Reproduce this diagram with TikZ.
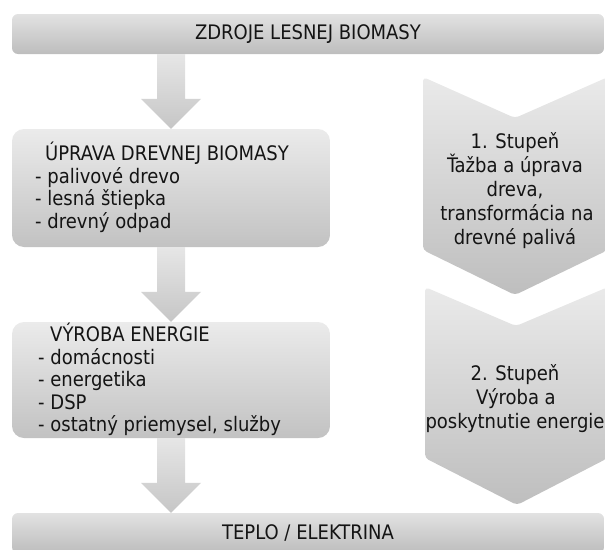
\documentclass[tikz,border=0pt]{standalone}
\usepackage{fontspec}
\setmainfont{DejaVu Sans Condensed}
\usetikzlibrary{calc}
\definecolor{barTop}{HTML}{E2E2E2}
\definecolor{barBot}{HTML}{BDBDBD}
\definecolor{boxTop}{HTML}{EBEBEB}
\definecolor{boxBot}{HTML}{C2C2C2}
\definecolor{arrTop}{HTML}{E6E6E6}
\definecolor{arrBot}{HTML}{C6C6C6}
\definecolor{chTop}{HTML}{EAEAEA}
\definecolor{chBot}{HTML}{BEBEBE}
\definecolor{txt}{HTML}{141414}
\begin{document}
\begin{tikzpicture}[x=1pt,y=-1pt,
  bar/.style={rounded corners=6pt, top color=barTop, bottom color=barBot,
    minimum width=592pt, minimum height=40pt, inner sep=0pt,
    font=\fontsize{20}{24}\selectfont, text=txt},
  boxshape/.style={rounded corners=12pt, top color=boxTop, bottom color=boxBot,
    minimum width=318pt, inner sep=0pt},
  ln/.style={anchor=base west, inner sep=0pt, text=txt,
    font=\fontsize{20}{24}\selectfont},
  cl/.style={anchor=base, inner sep=0pt, text=txt,
    font=\fontsize{20}{24}\selectfont},
  chevshape/.style={rounded corners=4pt, top color=chTop, bottom color=chBot},
  arrowfill/.style={top color=arrTop, bottom color=arrBot}
]
\useasboundingbox (0,0) rectangle (605,549);
\clip (0,0) rectangle (605,549);

% bars and boxes
\node[bar] (src) at (308,34) {ZDROJE LESNEJ BIOMASY};
\node[bar] (dst) at (308,533) {TEPLO / ELEKTRINA};
\node[boxshape, minimum height=118pt] (b1) at (171,188) {};
\node[boxshape, minimum height=116pt] (b2) at (171,380) {};

% block arrows
\newcommand{\blockarrow}[2]{%
  \path[arrowfill] let \p1=(#1), \p2=(#2) in
    (\x1-14pt,\y1) -- (\x1+14pt,\y1) -- (\x1+14pt,\y2+30pt) -- (\x1+30pt,\y2+30pt)
    -- (\x1,\y2) -- (\x1-30pt,\y2+30pt) -- (\x1-14pt,\y2+30pt) -- cycle;}
\blockarrow{src.south -| b1.north}{b1.north}
\blockarrow{b1.south}{b2.north}
\blockarrow{b2.south}{dst.north -| b2.south}

% box 1 text
\node[ln] (t1h) at (45,160.7) {ÚPRAVA DREVNEJ BIOMASY};
\node[ln] (t1a) at (35,183.2) {- palivové drevo};
\node[ln] (t1b) at (35,205.7) {- lesná štiepka};
\node[ln] (t1c) at (35,228.2) {- drevný odpad};
% box 2 text
\node[ln] (t2h) at (50,341.7) {VÝROBA ENERGIE};
\node[ln] (t2a) at (38,364.2) {- domácnosti};
\node[ln] (t2b) at (38,386.7) {- energetika};
\node[ln] (t2c) at (38,409.2) {- DSP};
\node[ln] (t2d) at (38,431.7) {- ostatný priemysel, služby};

% chevrons
\path[chevshape] (423,77) -- (515,118) -- (608,77) -- (608,250) -- (515,295) -- (423,250) -- cycle;
\path[chevshape] (425,287) -- (516,326) -- (608,287) -- (608,458) -- (517,505) -- (425,458) -- cycle;
\node[cl] (c1a) at (515,148) {1. Stupeň};
\node[cl] (c1b) at (515,172.2) {Ťažba a úprava};
\node[cl] (c1c) at (515,196.4) {dreva,};
\node[cl] (c1d) at (517,220.6) {transformácia na};
\node[cl] (c1e) at (515,244.8) {drevné palivá};
\node[cl] (c2a) at (515,380) {2. Stupeň};
\node[cl] (c2b) at (516,404.2) {Výroba a};
\node[cl] (c2c) at (515,428.4) {poskytnutie energie};
\end{tikzpicture}
\end{document}
